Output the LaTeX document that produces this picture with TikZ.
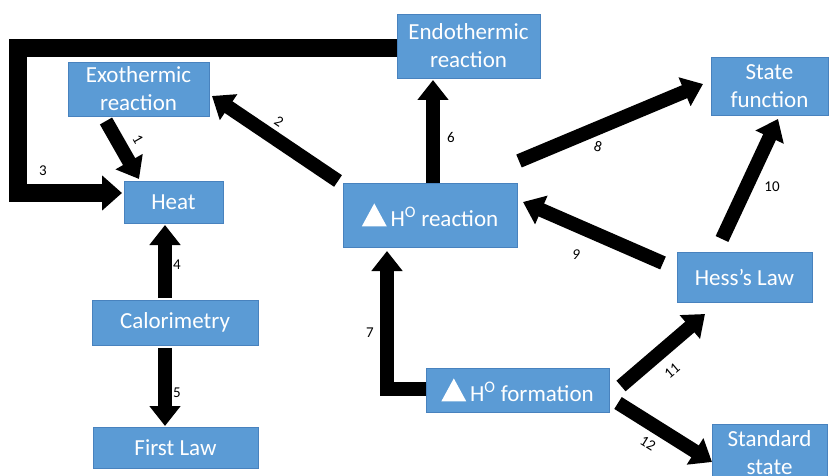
\documentclass[tikz,border=0pt]{standalone}
\usepackage{fontspec}
\setmainfont{Carlito}
\usetikzlibrary{arrows.meta}
\definecolor{boxblue}{RGB}{91,155,213}
\definecolor{boxedge}{RGB}{72,130,190}
\newcommand{\deltri}{\tikz[baseline=0pt]\fill[white] (0pt,0pt)--(25pt,0pt)--(12.5pt,23pt)--cycle;}
\tikzset{
  box/.style={rectangle, fill=boxblue, draw=boxedge, line width=0.6pt, text=white,
    font=\fontsize{23}{28}\selectfont, align=center, inner sep=0pt},
  arr/.style={line width=14pt, -{Triangle[length=20pt,width=30pt]}, line join=miter},
  num/.style={font=\fontsize{15}{16}\selectfont, text=black, inner sep=1pt}
}
\begin{document}
\begin{tikzpicture}[x=1pt,y=-1pt]
\useasboundingbox (0,0) rectangle (829,476);
\fill[white] (0,0) rectangle (829,476);
% boxes
\node[box, minimum width=141pt, minimum height=54pt] (exo) at (138.5,89) {Exothermic\\reaction};
\node[box, minimum width=99pt, minimum height=42pt] (heat) at (173.5,202) {Heat};
\node[box, minimum width=143pt, minimum height=64pt] (endo) at (468.5,46) {Endothermic\\reaction};
\node[box, minimum width=174pt, minimum height=64pt] (hr) at (430,215) {\deltri\,H\textsuperscript{O} reaction};
\node[box, minimum width=117pt, minimum height=58pt] (sf) at (769.5,86) {State\\function};
\node[box, minimum width=135pt, minimum height=50pt] (hess) at (744.5,277) {Hess’s Law};
\node[box, minimum width=115pt, minimum height=58pt] (ss) at (769.5,453) {Standard\\state};
\node[box, minimum width=183pt, minimum height=44pt] (hf) at (517.5,390) {\deltri\,H\textsuperscript{O} formation};
\node[box, minimum width=166pt, minimum height=45pt] (cal) at (175,322.5) {Calorimetry};
\node[box, minimum width=165pt, minimum height=41pt] (fl) at (175.5,447.5) {First Law};
% connector end points
\coordinate (a1s) at (106,121); \coordinate (a1e) at (139,179);
\coordinate (a2s) at (338,181); \coordinate (a2e) at (212,96);
\coordinate (a3s) at (397,48); \coordinate (a3a) at (18,48); \coordinate (a3b) at (18,193); \coordinate (a3e) at (122,193);
\coordinate (a4s) at (165,298); \coordinate (a4e) at (165,225);
\coordinate (a5s) at (165,348); \coordinate (a5e) at (165,426);
\coordinate (a6s) at (433,183); \coordinate (a6e) at (433,80);
\coordinate (a7s) at (426,389); \coordinate (a7a) at (387,389); \coordinate (a7e) at (387,251);
\coordinate (a8s) at (519,161); \coordinate (a8e) at (703,84);
\coordinate (a9s) at (663,263); \coordinate (a9e) at (523,202);
\coordinate (a10s) at (722,239); \coordinate (a10e) at (778,119);
\coordinate (a11s) at (621,386); \coordinate (a11e) at (705,314);
\coordinate (a12s) at (618,403); \coordinate (a12e) at (712,462);
% arrows
\draw[arr] (a1s) -- (a1e);
\draw[arr] (a2s) -- (a2e);
\draw[arr, line width=18pt, -{Triangle[length=20pt,width=34pt]}] (a3s) -- (a3a) -- (a3b) -- (a3e);
\draw[arr] (a4s) -- (a4e);
\draw[arr] (a5s) -- (a5e);
\draw[arr] (a6s) -- (a6e);
\draw[arr] (a7s) -- (a7a) -- (a7e);
\draw[arr] (a8s) -- (a8e);
\draw[arr] (a9s) -- (a9e);
\draw[arr] (a10s) -- (a10e);
\draw[arr] (a11s) -- (a11e);
\draw[arr] (a12s) -- (a12e);
% labels
\node[num, rotate=-60] (l1) at (138,139) {1};
\node[num, rotate=-34] (l2) at (279,122) {2};
\node[num] (l3) at (43,171) {3};
\node[num] (l4) at (177,265) {4};
\node[num] (l5) at (177,393) {5};
\node[num] (l6) at (451,137) {6};
\node[num] (l7) at (370,333) {7};
\node[num, rotate=-15] (l8) at (598,147) {8};
\node[num, font=\fontsize{15}{16}\selectfont\itshape] (l9) at (576,255) {9};
\node[num] (l10) at (772,187) {10};
\node[num, rotate=40] (l11) at (672,371) {11};
\node[num, rotate=-32] (l12) at (648,443) {12};
\end{tikzpicture}
\end{document}
